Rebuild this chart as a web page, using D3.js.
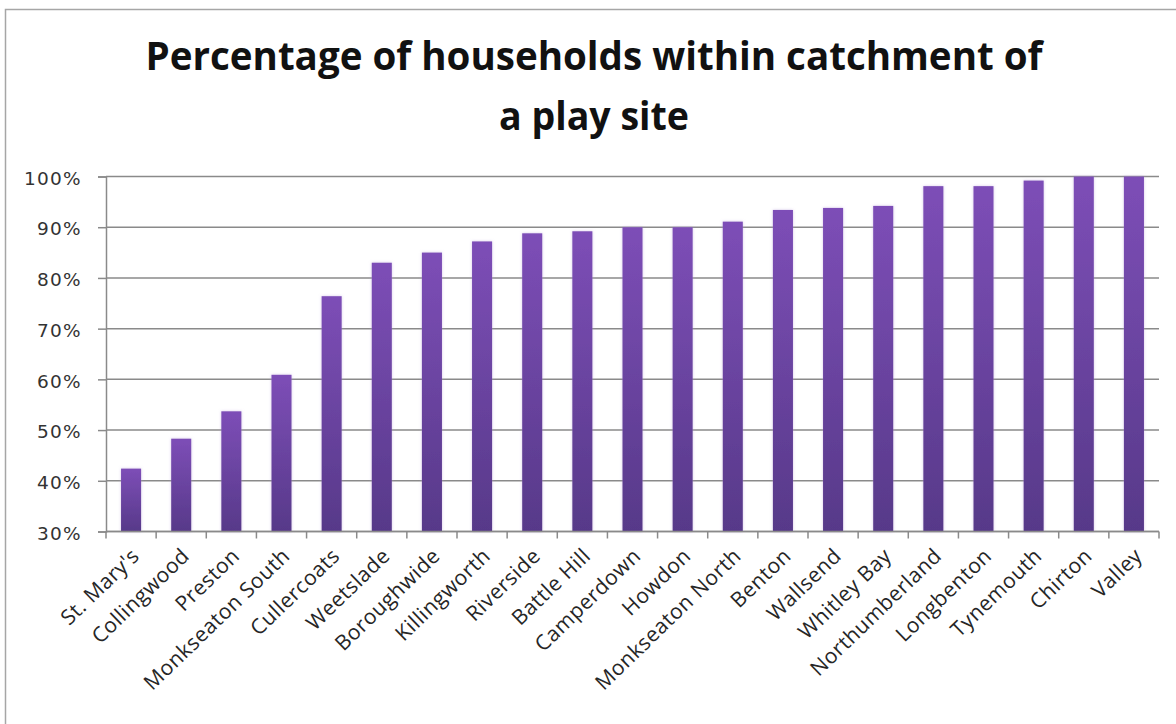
<!DOCTYPE html>
<html>
<head>
<meta charset="utf-8">
<script src="https://cdn.jsdelivr.net/npm/d3@7/dist/d3.min.js"></script>
<style>
  html, body { margin: 0; padding: 0; background: #ffffff; }
  svg { display: block; }
</style>
</head>
<body>
<svg id="chart" width="1176" height="724"></svg>
<script>
// Wards, in the order plotted
const categories = [
  "St. Mary's", "Collingwood", "Preston", "Monkseaton South", "Cullercoats",
  "Weetslade", "Boroughwide", "Killingworth", "Riverside", "Battle Hill",
  "Camperdown", "Howdon", "Monkseaton North", "Benton", "Wallsend",
  "Whitley Bay", "Northumberland", "Longbenton", "Tynemouth", "Chirton", "Valley"
];

// Share of households within catchment of a play site (%)
const coverage = [
  42.4, 48.3, 53.7, 60.9, 76.4,
  83.0, 85.0, 87.2, 88.8, 89.2,
  90.0, 90.0, 91.1, 93.4, 93.8,
  94.2, 98.1, 98.1, 99.2, 100, 100
];

// Y axis tick labels
const yTicks = [30, 40, 50, 60, 70, 80, 90, 100];

const titleLines = ["Percentage of households within catchment of", "a play site"];

const svg = d3.select("#chart");

// outer chart-area frame
svg.append("path")
  .attr("d", "M5.5,724 V9.5 H1176")
  .attr("fill", "none")
  .attr("stroke", "#a6a6a6")
  .attr("stroke-width", 1.5);

// title
const title = svg.append("g")
  .attr("font-family", "'Open Sans', 'Noto Sans', sans-serif")
  .attr("font-weight", "bold")
  .attr("font-size", 40)
  .attr("fill", "#111");
title.append("text")
  .attr("x", 594).attr("y", 70)
  .attr("text-anchor", "middle")
  .attr("textLength", 897).attr("lengthAdjust", "spacingAndGlyphs")
  .text(titleLines[0]);
title.append("text")
  .attr("x", 594).attr("y", 130)
  .attr("text-anchor", "middle")
  .attr("textLength", 190).attr("lengthAdjust", "spacingAndGlyphs")
  .text(titleLines[1]);

// scales
const x = d3.scaleBand()
  .domain(categories)
  .range([106, 1159])
  .paddingInner(0.6)
  .paddingOuter(0.3);

const y = d3.scaleLinear()
  .domain([30, 100])
  .range([531.5, 176.5]);

// bar fill gradient
const defs = svg.append("defs");
const grad = defs.append("linearGradient")
  .attr("id", "barFill")
  .attr("x1", 0).attr("y1", 0).attr("x2", 0).attr("y2", 1);
grad.append("stop").attr("offset", "0%").attr("stop-color", "#7d4eb7");
grad.append("stop").attr("offset", "100%").attr("stop-color", "#573989");

const glow = defs.append("filter")
  .attr("id", "barGlow")
  .attr("x", "-40%").attr("y", "-5%").attr("width", "180%").attr("height", "110%");
glow.append("feGaussianBlur").attr("in", "SourceAlpha").attr("stdDeviation", 1.6).attr("result", "b");
glow.append("feFlood").attr("flood-color", "#b79ad9").attr("flood-opacity", 0.55);
glow.append("feComposite").attr("in2", "b").attr("operator", "in").attr("result", "g");
const merge = glow.append("feMerge");
merge.append("feMergeNode").attr("in", "g");
merge.append("feMergeNode").attr("in", "SourceGraphic");

// horizontal gridlines
svg.append("g")
  .selectAll("line")
  .data(yTicks)
  .join("line")
  .attr("x1", 106).attr("x2", 1159)
  .attr("y1", d => y(d)).attr("y2", d => y(d))
  .attr("stroke", "#8a8a8a")
  .attr("stroke-width", 1.5);

// y axis
const yAxis = svg.append("g")
  .attr("transform", "translate(106,0)")
  .call(d3.axisLeft(y).tickValues(yTicks).tickFormat(d => d + "%").tickSize(8).tickPadding(16));
yAxis.select(".domain").attr("stroke", "#8a8a8a").attr("stroke-width", 1.5);
yAxis.selectAll(".tick line").attr("stroke", "#8a8a8a").attr("stroke-width", 1.5);
yAxis.selectAll(".tick text")
  .attr("font-family", "'DejaVu Sans', sans-serif")
  .attr("font-size", 18.5)
  .attr("letter-spacing", 1.3)
  .attr("dy", "0.42em")
  .attr("fill", "#333");

// bars
svg.append("g")
  .selectAll("rect")
  .data(categories.map((c, i) => ({ c, v: coverage[i] })))
  .join("rect")
  .attr("x", d => x(d.c))
  .attr("width", x.bandwidth())
  .attr("y", d => y(d.v))
  .attr("height", d => y(30) - y(d.v))
  .attr("fill", "url(#barFill)")
  .attr("filter", "url(#barGlow)");

// x axis line with ticks on category boundaries
const step = x.step();
const boundaries = categories.map(c => x(c) + x.bandwidth() / 2 - step / 2);
boundaries.push(x(categories[categories.length - 1]) + x.bandwidth() / 2 + step / 2);

const xAxis = svg.append("g");
xAxis.append("line")
  .attr("x1", 106).attr("x2", 1159)
  .attr("y1", y(30)).attr("y2", y(30))
  .attr("stroke", "#8a8a8a").attr("stroke-width", 1.5);
xAxis.selectAll("line.tick")
  .data(boundaries)
  .join("line")
  .attr("class", "tick")
  .attr("x1", d => d).attr("x2", d => d)
  .attr("y1", y(30)).attr("y2", y(30) + 7)
  .attr("stroke", "#8a8a8a").attr("stroke-width", 1.5);

// rotated category labels
xAxis.selectAll("text")
  .data(categories)
  .join("text")
  .attr("transform", d => `translate(${x(d) + x.bandwidth() / 2 - 1},${y(30) + 15}) rotate(-44)`)
  .attr("text-anchor", "end")
  .attr("dy", "0.72em")
  .attr("font-family", "'Open Sans', sans-serif")
  .attr("font-size", 21)
  .attr("letter-spacing", 0.5)
  .attr("fill", "#262626")
  .text(d => d);
</script>
</body>
</html>
